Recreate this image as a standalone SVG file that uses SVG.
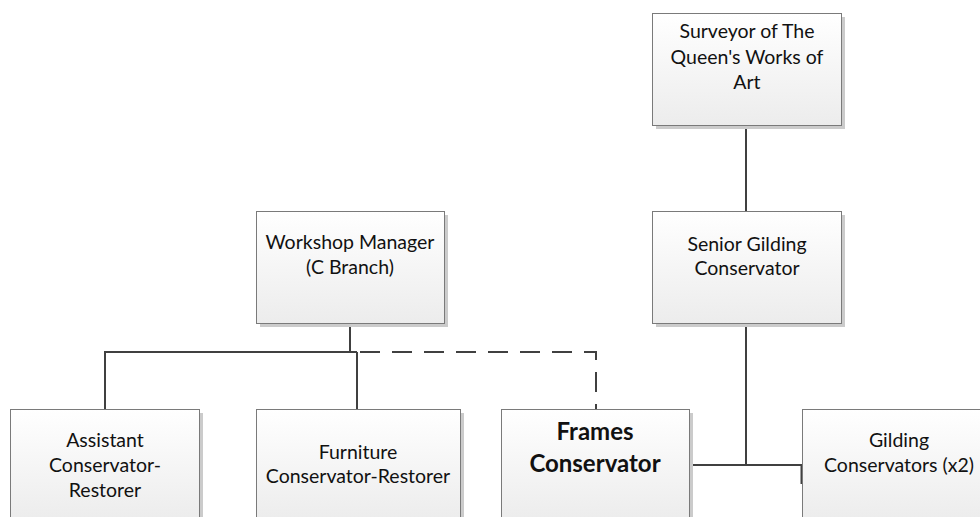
<svg xmlns="http://www.w3.org/2000/svg" width="980" height="517" viewBox="0 0 980 517">
  <defs>
    <linearGradient id="boxfill" x1="0" y1="0" x2="0" y2="1">
      <stop offset="0" stop-color="#ffffff"/>
      <stop offset="1" stop-color="#ececec"/>
    </linearGradient>
  </defs>
  <style>
    .shadow { fill: #cbcbcb; }
    .box { fill: url(#boxfill); stroke: #7a7a7a; stroke-width: 1; }
    .lbl { font-family: Lato, "Liberation Sans", sans-serif; font-size: 19.5px; fill: #111111; text-anchor: middle; }
    .bold { font-weight: bold; font-size: 24px; }
    .conn { fill: none; stroke: #404040; stroke-width: 2; }
    .dash { stroke-dasharray: 20 12; }
  </style>
  <rect width="980" height="517" fill="#ffffff"/>

  <g id="connectors">
    <line class="conn" x1="746" y1="125" x2="746" y2="211"/>
    <line class="conn" x1="350" y1="323" x2="350" y2="352"/>
    <polyline class="conn" points="105,409 105,352 357,352"/>
    <line class="conn" x1="357" y1="352" x2="357" y2="409"/>
    <polyline class="conn dash" points="360,352 596,352 596,409"/>
    <line class="conn" x1="746" y1="323" x2="746" y2="465"/>
    <line class="conn" x1="689" y1="465" x2="803" y2="465"/>
    <line class="conn" x1="802" y1="464" x2="802" y2="484" style="stroke-width:3"/>
  </g>

  <g id="surveyor">
    <rect class="shadow" x="656" y="17" width="189" height="112"/>
    <rect class="box" x="652.5" y="13.5" width="189" height="112"/>
    <text class="lbl" x="747" y="38">Surveyor of The</text>
    <text class="lbl" x="747" y="64">Queen's Works of</text>
    <text class="lbl" x="747" y="89">Art</text>
  </g>

  <g id="workshop-manager">
    <rect class="shadow" x="260" y="215" width="188" height="112"/>
    <rect class="box" x="256.5" y="211.5" width="188" height="112"/>
    <text class="lbl" x="350" y="249">Workshop Manager</text>
    <text class="lbl" x="350" y="274">(C Branch)</text>
  </g>

  <g id="senior-gilding">
    <rect class="shadow" x="656" y="215" width="189" height="112"/>
    <rect class="box" x="652.5" y="211.5" width="189" height="112"/>
    <text class="lbl" x="747" y="251">Senior Gilding</text>
    <text class="lbl" x="747" y="275">Conservator</text>
  </g>

  <g id="assistant">
    <rect class="shadow" x="14" y="413" width="189" height="112"/>
    <rect class="box" x="10.5" y="409.5" width="189" height="112"/>
    <text class="lbl" x="105" y="447">Assistant</text>
    <text class="lbl" x="105" y="472">Conservator-</text>
    <text class="lbl" x="105" y="497">Restorer</text>
  </g>

  <g id="furniture">
    <rect class="shadow" x="260" y="413" width="204" height="112"/>
    <rect class="box" x="256.5" y="409.5" width="204" height="112"/>
    <text class="lbl" x="358" y="459">Furniture</text>
    <text class="lbl" x="358" y="483">Conservator-Restorer</text>
  </g>

  <g id="frames">
    <rect class="shadow" x="505" y="413" width="188" height="112"/>
    <rect class="box" x="501.5" y="409.5" width="188" height="112"/>
    <text class="lbl bold" x="595" y="440">Frames</text>
    <text class="lbl bold" x="595" y="472">Conservator</text>
  </g>

  <g id="gilding">
    <rect class="shadow" x="807" y="413" width="189" height="112"/>
    <rect class="box" x="802.5" y="409.5" width="189" height="112"/>
    <text class="lbl" x="899" y="447">Gilding</text>
    <text class="lbl" x="899" y="472">Conservators (x2)</text>
  </g>
</svg>
